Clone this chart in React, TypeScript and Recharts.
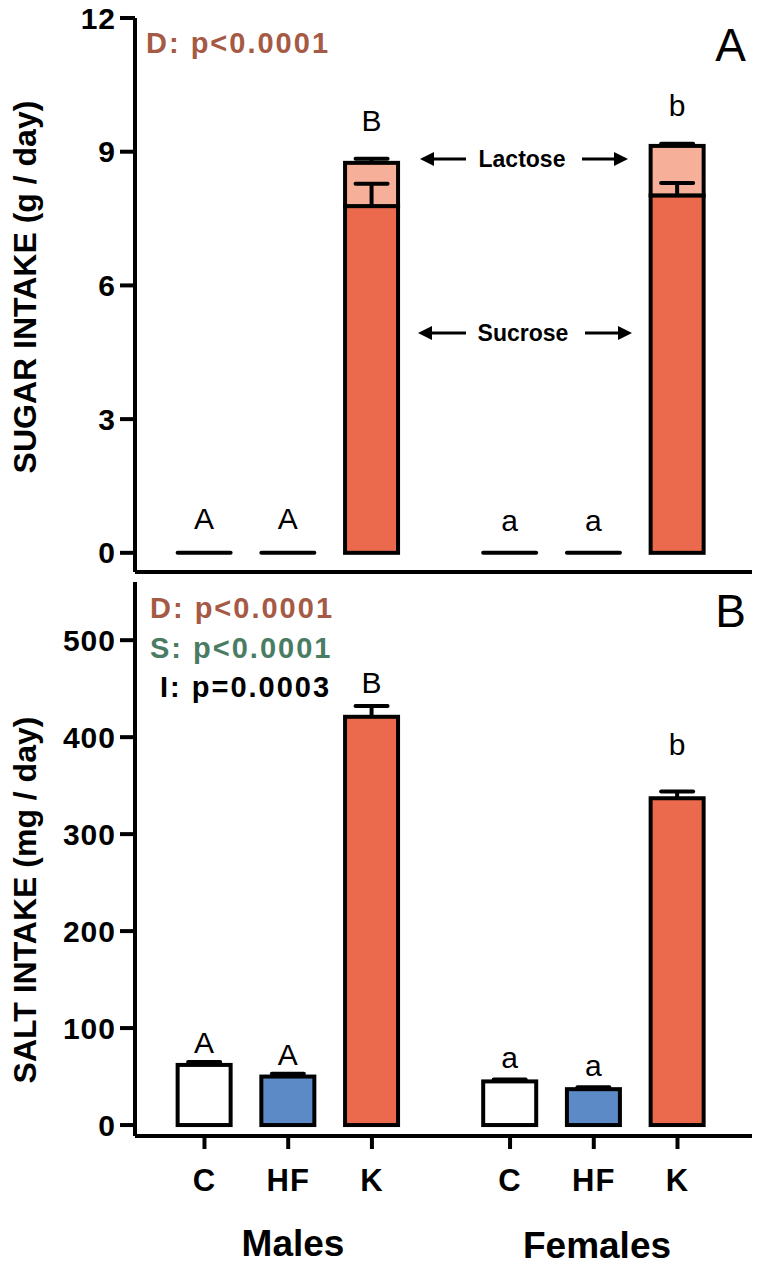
import { BarChart, Bar, XAxis, YAxis } from "recharts";

// diet groups, drawn at numeric x positions (gap between males and females)
const diets = ["C", "HF", "K", "C", "HF", "K"];
const xPos = [1, 2, 3, 4.65, 5.65, 6.65];

// panel A: sugar intake (g/day)
const sucrose = [0, 0, 7.78, 0, 0, 8.02];
const sucroseErr = [0, 0, 0.5, 0, 0, 0.28];
const lactose = [0, 0, 0.97, 0, 0, 1.11];
const totalErr = [0, 0, 0.09, 0, 0, 0.05];
const sugarLetters = ["A", "A", "B", "a", "a", "b"];

// panel B: salt intake (mg/day)
const salt = [62, 50, 421, 45, 37, 337];
const saltErr = [3, 3, 11, 2, 2, 7];
const saltLetters = ["A", "A", "B", "a", "a", "b"];

const sugarTicks = [0, 3, 6, 9, 12];
const saltTicks = [0, 100, 200, 300, 400, 500];

const dietFill: Record<string, string> = { C: "#ffffff", HF: "#5b8ac6", K: "#eb6a4e" };
const lactoseFill = "#f6b09a";

// gap (px) between error cap and letter baseline, per bar
const sugarGap = [24, 24, 28, 22, 22, 28];
const saltGap = [9, 9, 13, 11, 11, 36];

const sugarData = diets.map((d, i) => ({
  pos: xPos[i],
  diet: d,
  sucrose: sucrose[i],
  sucroseErr: sucroseErr[i],
  lactose: lactose[i],
  totalErr: totalErr[i],
  letter: sugarLetters[i],
}));

const saltData = diets.map((d, i) => ({
  pos: xPos[i],
  diet: d,
  salt: salt[i],
  saltErr: saltErr[i],
  letter: saltLetters[i],
}));

const FONT = "'Liberation Sans', Arial, sans-serif";
const SW = 4;

const labelFor = (v: number) => diets[xPos.indexOf(v)] ?? "";

const ErrBar = ({ cx, y0, y1 }: { cx: number; y0: number; y1: number }) => (
  <g stroke="#000" strokeWidth={SW}>
    <line x1={cx} x2={cx} y1={y0} y2={y1} />
    <line x1={cx - 16} x2={cx + 16} y1={y1} y2={y1} strokeLinecap="round" />
  </g>
);

// bar with upward-only error bar(s) and a significance letter on top
const makeShape =
  (
    valueKey: string,
    errKey: string,
    fill: (p: any) => string,
    gaps: number[] | null,
    opts: { skipZero?: boolean; innerErrKey?: string } = {}
  ) =>
  (props: any) => {
    const { x, y, width, height, payload, index } = props;
    const v = payload[valueKey];
    const e = payload[errKey];
    const cx = x + width / 2;
    const letter =
      gaps === null ? null : (top: number) => (
        <text x={cx} y={top - gaps[index]} textAnchor="middle" fontFamily={FONT} fontSize={30}>
          {payload.letter}
        </text>
      );
    if (opts.skipZero && !v) {
      return <g>{letter && letter(y)}</g>;
    }
    const k = v ? height / v : 0;
    const top = y - e * k;
    const innerE = opts.innerErrKey ? payload[opts.innerErrKey] : 0;
    return (
      <g>
        {height > 0.5 ? (
          <rect x={x} y={y} width={width} height={height} fill={fill(payload)} stroke="#000" strokeWidth={SW} />
        ) : (
          <line x1={x} x2={x + width} y1={y} y2={y} stroke="#000" strokeWidth={SW} strokeLinecap="round" />
        )}
        {innerE > 0 && <ErrBar cx={cx} y0={y + height} y1={y + height - innerE * k} />}
        {e > 0 && <ErrBar cx={cx} y0={y} y1={top} />}
        {letter && letter(top)}
      </g>
    );
  };

const tickStyle = { fontSize: 30, fontWeight: 700, fill: "#000", fontFamily: FONT, letterSpacing: 1 };
const X_DOMAIN = [0.17, 7.54];

const Arrow = ({ x1, x2, y }: { x1: number; x2: number; y: number }) => {
  const dir = x2 > x1 ? 1 : -1;
  return (
    <g>
      <line x1={x1} x2={x2 - dir * 10} y1={y} y2={y} stroke="#000" strokeWidth={3} />
      <polygon points={`${x2},${y} ${x2 - dir * 14},${y - 7} ${x2 - dir * 14},${y + 7}`} fill="#000" />
    </g>
  );
};

export default function App() {
  return (
    <div style={{ position: "absolute", left: 0, top: 0, width: 757, height: 1266, background: "#fff" }}>
      <div style={{ position: "absolute", left: 0, top: 0 }}>
        <BarChart width={757} height={590} data={sugarData} margin={{ top: 18, right: 5, bottom: 0, left: 0 }}>
          <XAxis
            dataKey="pos"
            type="number"
            domain={X_DOMAIN}
            ticks={xPos}
            tick={false}
            tickLine={false}
            height={18}
            axisLine={{ stroke: "#000", strokeWidth: SW }}
          />
          <XAxis xAxisId="top" orientation="top" type="number" domain={[0, 1]} height={0} tick={false} tickLine={false} axisLine={{ stroke: "#000", strokeWidth: SW }} />
          <YAxis
            type="number"
            domain={[-0.43, 12]}
            ticks={sugarTicks}
            width={135}
            tickSize={15}
            tickMargin={4}
            tick={tickStyle}
            tickLine={{ stroke: "#000", strokeWidth: SW }}
            axisLine={{ stroke: "#000", strokeWidth: SW }}
          />
          <YAxis yAxisId="right" orientation="right" type="number" domain={[0, 1]} width={0} tick={false} tickLine={false} axisLine={{ stroke: "#000", strokeWidth: SW }} />
          <Bar
            dataKey="sucrose"
            stackId="s"
            barSize={53}
            isAnimationActive={false}
            shape={makeShape("sucrose", "sucroseErr", (p) => dietFill[p.diet], null)}
          />
          <Bar
            dataKey="lactose"
            stackId="s"
            barSize={53}
            isAnimationActive={false}
            shape={makeShape("lactose", "totalErr", () => lactoseFill, sugarGap, {
              skipZero: true,
              innerErrKey: "sucroseErr",
            })}
          />
        </BarChart>
      </div>
      <div style={{ position: "absolute", left: 0, top: 580 }}>
        <BarChart width={757} height={686} data={saltData} margin={{ top: 2, right: 5, bottom: 0, left: 0 }}>
          <XAxis
            dataKey="pos"
            type="number"
            domain={X_DOMAIN}
            ticks={xPos}
            tickFormatter={labelFor}
            height={130}
            tickSize={13}
            tickMargin={20}
            tick={{ ...tickStyle, fontSize: 31 }}
            tickLine={{ stroke: "#000", strokeWidth: SW }}
            axisLine={{ stroke: "#000", strokeWidth: SW }}
          />
          <XAxis xAxisId="top" orientation="top" type="number" domain={[0, 1]} height={0} tick={false} tickLine={false} axisLine={{ stroke: "#000", strokeWidth: SW }} />
          <YAxis
            type="number"
            domain={[-11.3, 560]}
            ticks={saltTicks}
            width={135}
            tickSize={15}
            tickMargin={4}
            tick={tickStyle}
            tickLine={{ stroke: "#000", strokeWidth: SW }}
            axisLine={{ stroke: "#000", strokeWidth: SW }}
          />
          <YAxis yAxisId="right" orientation="right" type="number" domain={[0, 1]} width={0} tick={false} tickLine={false} axisLine={{ stroke: "#000", strokeWidth: SW }} />
          <Bar
            dataKey="salt"
            barSize={53}
            isAnimationActive={false}
            shape={makeShape("salt", "saltErr", (p) => dietFill[p.diet], saltGap)}
          />
        </BarChart>
      </div>
      <svg width={757} height={1266} style={{ position: "absolute", left: 0, top: 0, pointerEvents: "none" }}>
        <g fontFamily={FONT} fontWeight={700}>
          <text transform="translate(36,287) rotate(-90)" textAnchor="middle" fontSize={32}>
            SUGAR INTAKE (g / day)
          </text>
          <text transform="translate(36,900) rotate(-90)" textAnchor="middle" fontSize={32}>
            SALT INTAKE (mg / day)
          </text>
          <text x={146} y={53} fontSize={29} fill="#a55a45" letterSpacing={2}>D: p&lt;0.0001</text>
          <text x={150} y={618} fontSize={29} fill="#a55a45" letterSpacing={2}>D: p&lt;0.0001</text>
          <text x={150} y={658} fontSize={29} fill="#4a7c64" letterSpacing={2}>S: p&lt;0.0001</text>
          <text x={160} y={697} fontSize={29} fill="#000" letterSpacing={2}>I: p=0.0003</text>
          <text x={293} y={1256} fontSize={37} textAnchor="middle">Males</text>
          <text x={597} y={1258} fontSize={37} textAnchor="middle">Females</text>
          <text x={522} y={167} fontSize={23} textAnchor="middle">Lactose</text>
          <text x={523} y={341} fontSize={23} textAnchor="middle">Sucrose</text>
        </g>
        <text x={746} y={61} fontFamily={FONT} fontSize={46} textAnchor="end">A</text>
        <text x={746} y={627} fontFamily={FONT} fontSize={46} textAnchor="end">B</text>
        <Arrow x1={466} x2={420} y={159} />
        <Arrow x1={582} x2={628} y={159} />
        <Arrow x1={466} x2={418} y={333} />
        <Arrow x1={585} x2={632} y={333} />
      </svg>
    </div>
  );
}
